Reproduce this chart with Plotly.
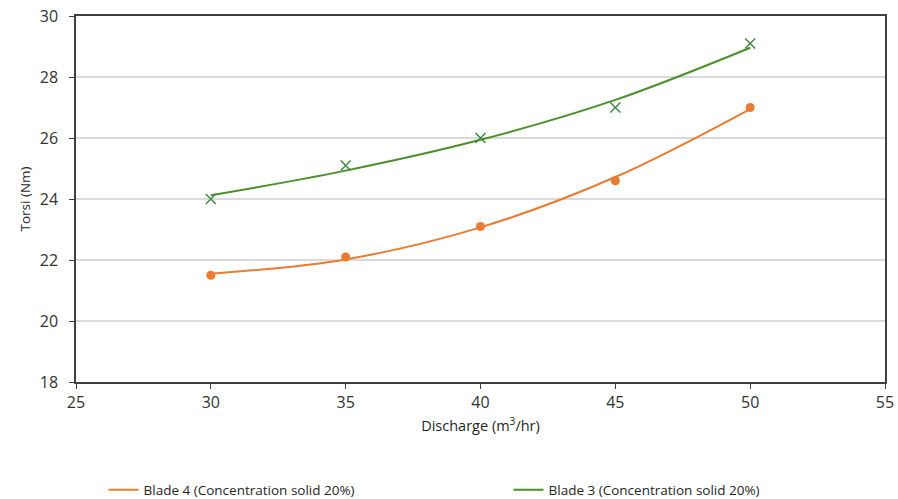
import plotly.graph_objects as go

discharge = [30, 35, 40, 45, 50]
blade4_torsi = [21.5, 22.1, 23.1, 24.6, 27.0]
blade3_torsi = [24.0, 25.1, 26.0, 27.0, 29.1]
# trendline values (polynomial trend)
blade4_trend = [21.55, 22.02, 23.07, 24.72, 26.95]
blade3_trend = [24.12, 24.93, 25.94, 27.25, 28.96]

name4 = "Blade 4 (Concentration solid 20%)"
name3 = "Blade 3 (Concentration solid 20%)"
orange = "#E97B33"
green = "#4A9028"
green_marker = "#3D8C45"

fig = go.Figure()
fig.add_trace(go.Scatter(x=discharge, y=blade4_trend, mode="lines", name=name4,
                         line=dict(color=orange, width=2, shape="spline", smoothing=1.0)))
fig.add_trace(go.Scatter(x=discharge, y=blade3_trend, mode="lines", name=name3,
                         line=dict(color=green, width=2, shape="spline", smoothing=1.0)))
fig.add_trace(go.Scatter(x=discharge, y=blade4_torsi, mode="markers", showlegend=False,
                         marker=dict(color=orange, size=9, symbol="circle")))
fig.add_trace(go.Scatter(x=discharge, y=blade3_torsi, mode="markers", showlegend=False,
                         marker=dict(color=green_marker, size=10, symbol="x-thin",
                                     line=dict(color=green_marker, width=1.5))))

font_family = "Open Sans, Liberation Sans, sans-serif"
fig.update_layout(
    width=898, height=499,
    margin=dict(l=76, r=13, t=16, b=117, autoexpand=False),
    paper_bgcolor="white", plot_bgcolor="white",
    font=dict(family=font_family, color="#333333", size=13),
    showlegend=True,
    legend=dict(orientation="h", x=0.034, xanchor="left", y=-0.295, yanchor="middle",
                entrywidth=360, entrywidthmode="pixels", tracegroupgap=0,
                font=dict(size=13.5, color="#262626"), bgcolor="rgba(0,0,0,0)"),
)
fig.update_xaxes(range=[25, 55], dtick=5, tick0=25, showgrid=False, zeroline=False,
                 showline=True, linecolor="#404040", linewidth=1.5, mirror=True,
                 ticks="outside", ticklen=5, tickcolor="#404040",
                 tickfont=dict(size=16, color="#333333"),
                 title=dict(text="Discharge (m<sup>3</sup>/hr)", font=dict(size=14.5, color="#262626"),
                            standoff=9))
fig.update_yaxes(range=[18, 30], dtick=2, tick0=18, showgrid=True, gridcolor="#D9D9D9",
                 gridwidth=1.5, zeroline=False,
                 showline=True, linecolor="#404040", linewidth=1.5, mirror=True,
                 ticks="outside", ticklen=5, tickcolor="#404040", ticklabelstandoff=8,
                 tickfont=dict(size=16, color="#333333"),
                 title=dict(text="Torsi (Nm)", font=dict(size=13.5, color="#262626"), standoff=6))

fig.write_html("out.html", config={"displayModeBar": False},
               post_script="document.body.style.margin='0';")
